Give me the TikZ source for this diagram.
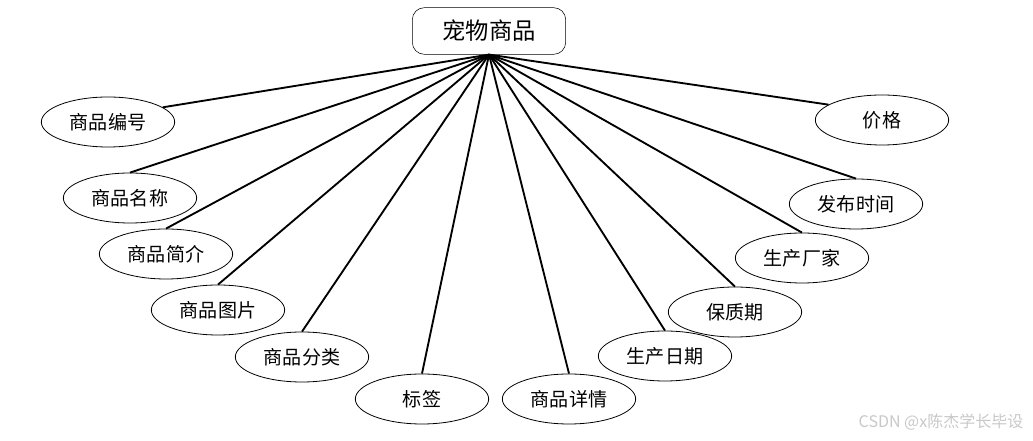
\documentclass[tikz,border=0pt]{standalone}
\usepackage{fontspec}
\setmainfont{Noto Sans CJK SC}
\usepackage{xcolor}
\definecolor{petInk}{HTML}{000000}
\definecolor{petMark}{HTML}{C8C8C8}
\usetikzlibrary{positioning,shapes.geometric}

\begin{document}
\begin{tikzpicture}[
      x=0.75pt, y=-0.75pt,
      every node/.style={font=\fontsize{14.3}{16}\selectfont},
      entity/.style={rectangle,rounded corners=9pt,draw=petInk,
                     minimum width=115pt,minimum height=35pt,
                     font=\fontsize{17.5}{19}\selectfont},
      attr/.style={ellipse,draw=petInk,line width=0.6pt,
                   minimum width=100pt,minimum height=37.5pt,inner sep=0pt},
      link/.style={line width=1.4pt,petInk},
    ]
    \useasboundingbox (0,0) rectangle (1033,441);

    % Entity at the top
    \node[entity] (pet) at (489,31) {宠物商品};

    % Attributes, left side
    \node[attr] (code)  at (108,122) {商品编号};
    \node[attr] (name)  at (130,198) {商品名称};
    \node[attr] (intro) at (166,254) {商品简介};
    \node[attr] (pic)   at (218,310) {商品图片};
    \node[attr] (cat)   at (302,357) {商品分类};
    \node[attr] (tag)   at (422,399) {标签};

    % Attributes, right side
    \node[attr] (detail) at (569,399) {商品详情};
    \node[attr] (made)   at (665,356) {生产日期};
    \node[attr] (shelf)  at (735,312) {保质期};
    \node[attr] (maker)  at (802,258) {生产厂家};
    \node[attr] (pub)    at (856,204) {发布时间};
    \node[attr] (price)  at (882,120) {价格};

    % All links fan out from the entity
    \draw[link] (pet.south) -- (code.15);
    \foreach \a in {name,intro,pic,cat,tag,detail,made,shelf,maker,pub}
      \draw[link] (pet.south) -- (\a.north);
    \draw[link] (pet.south) -- (price.164);

    % Watermark
    \node[petMark,anchor=east,font=\fontsize{12}{14}\selectfont] (mark) at (1028,422)
      {CSDN @x陈杰学长毕设};

  \end{tikzpicture}
\end{document}
